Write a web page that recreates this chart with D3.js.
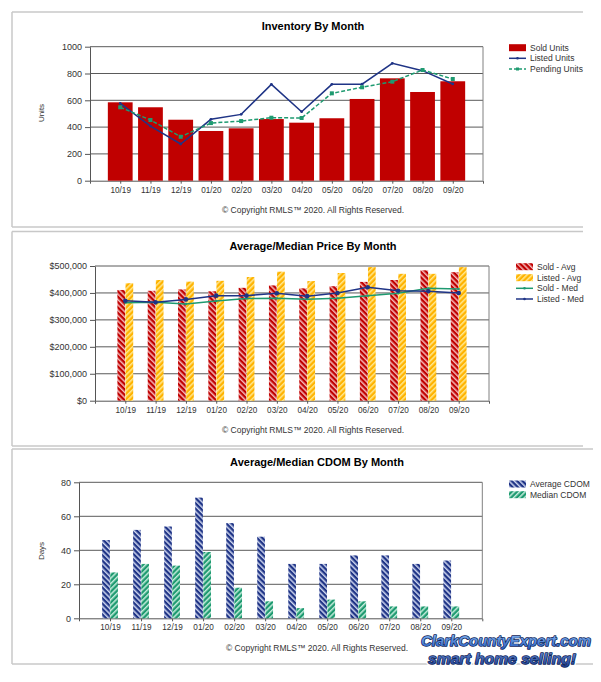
<!DOCTYPE html>
<html>
<head>
<meta charset="utf-8">
<script src="https://cdn.jsdelivr.net/npm/d3@7/dist/d3.min.js"></script>
<style>
  html, body { margin: 0; padding: 0; background: #fff; }
  svg { display: block; }
  text { font-family: "Liberation Sans", Arial, sans-serif; }
</style>
</head>
<body>
<svg id="chart" width="601" height="682"></svg>
<script>
// ---------- DATA ----------
const months = ["10/19","11/19","12/19","01/20","02/20","03/20","04/20","05/20","06/20","07/20","08/20","09/20"];

const soldUnits    = [585, 548, 455, 371, 391, 460, 433, 466, 610, 764, 662, 742];
const listedUnits  = [577, 408, 274, 458, 495, 719, 515, 719, 720, 876, 821, 722];
const pendingUnits = [548, 453, 328, 430, 445, 470, 468, 652, 697, 739, 826, 759];

const soldAvg   = [411000, 408000, 413000, 406000, 419000, 428000, 417000, 425000, 441000, 448000, 484000, 477000];
const listedAvg = [436000, 448000, 442000, 445000, 459000, 479000, 444000, 474000, 496000, 471000, 471000, 496000];
const soldMed   = [364000, 365000, 359000, 370000, 379000, 380000, 377000, 380000, 390000, 399000, 417000, 415000];
const listedMed = [371000, 365000, 376000, 390000, 390000, 399000, 388000, 400000, 421000, 408000, 406000, 400000];

const avgCdom = [46, 52, 54, 71, 56, 48, 32, 32, 37, 37, 32, 34];
const medCdom = [27, 32, 31, 39, 18, 10, 6, 11, 10, 7, 7, 7];

const unitTicks  = [0, 200, 400, 600, 800, 1000];
const priceTicks = [0, 100000, 200000, 300000, 400000, 500000];
const dayTicks   = [0, 20, 40, 60, 80];

const titles = ["Inventory By Month", "Average/Median Price By Month", "Average/Median CDOM By Month"];
const copyright = "\u00A9 Copyright RMLS\u2122 2020.  All Rights Reserved.";

// ---------- COLORS ----------
const RED = "#c00000", NAVY = "#1f3486", GREEN = "#1e9a70", ORANGE = "#ffb300";
const GRID = "#5a5a5a", AXIS = "#555", TXT = "#333";

const svg = d3.select("#chart");
svg.append("rect").attr("width", 601).attr("height", 682).attr("fill", "#fff");

// ---------- PATTERNS ----------
const defs = svg.append("defs");
function hatch(id, base, stripe, angle) {
  const p = defs.append("pattern").attr("id", id)
    .attr("patternUnits", "userSpaceOnUse").attr("width", 3.8).attr("height", 3.8)
    .attr("patternTransform", `rotate(${angle})`);
  p.append("rect").attr("width", 3.8).attr("height", 3.8).attr("fill", base);
  p.append("rect").attr("x", 0).attr("width", 1.5).attr("height", 3.8).attr("fill", stripe);
}
hatch("hRed", RED, "#f3b8b8", -45);
hatch("hOrange", ORANGE, "#ffe890", 45);
hatch("hNavy", NAVY, "#cdd5ee", -45);
hatch("hGreen", GREEN, "#c4ecdc", 45);

// ---------- PANELS ----------
function panel(x0, y0, x1, y1) {
  const g = svg.append("g");
  [[x0, y0, x1, y0], [x0, y0, x0, y1], [x0, y1, x1, y1]].forEach(l => {
    g.append("line").attr("x1", l[0]).attr("y1", l[1]).attr("x2", l[2]).attr("y2", l[3])
      .attr("stroke", "#c8c8c8").attr("stroke-width", 1.5);
  });
}
panel(12, 12, 583, 227);
panel(12, 231.5, 583, 446);
panel(12, 449, 593, 664);

// ---------- GENERIC PLOT FRAME ----------
function frame(cfg) {
  const g = svg.append("g");
  const x = d3.scaleLinear().domain([0, 13]).range([cfg.left, cfg.right]);
  const y = d3.scaleLinear().domain([0, cfg.max]).range([cfg.bottom, cfg.top]);

  g.selectAll("line.grid").data(cfg.ticks.filter(t => t > 0)).enter().append("line")
    .attr("x1", cfg.left).attr("x2", cfg.right)
    .attr("y1", d => y(d)).attr("y2", d => y(d))
    .attr("stroke", GRID).attr("stroke-width", 1);
  g.append("line").attr("x1", cfg.right).attr("x2", cfg.right)
    .attr("y1", cfg.top).attr("y2", cfg.bottom).attr("stroke", "#808080").attr("stroke-width", 1);

  const ya = d3.axisLeft(y).tickValues(cfg.ticks).tickFormat(cfg.fmt).tickSize(5).tickPadding(3).tickSizeOuter(0);
  const yg = g.append("g").attr("transform", `translate(${cfg.left},0)`).call(ya);
  yg.selectAll("text").attr("font-size", 9).attr("fill", TXT).attr("font-family", "Liberation Sans, Arial, sans-serif");
  yg.selectAll("line,path").attr("stroke", AXIS);

  const xa = d3.axisBottom(x).tickValues(d3.range(1, 13)).tickFormat(i => months[i - 1])
    .tickSize(3).tickPadding(3).tickSizeOuter(3);
  const xg = g.append("g").attr("transform", `translate(0,${cfg.bottom})`).call(xa);
  xg.selectAll("text").attr("font-size", 8.2).attr("fill", TXT).attr("font-family", "Liberation Sans, Arial, sans-serif");
  xg.selectAll("line,path").attr("stroke", AXIS);

  svg.append("text").attr("x", cfg.titleX).attr("y", cfg.titleY).attr("text-anchor", "middle")
    .attr("font-size", 11).attr("font-weight", "bold").attr("fill", "#000").text(cfg.title);
  svg.append("text").attr("x", cfg.copyX).attr("y", cfg.copyY).attr("text-anchor", "middle")
    .attr("font-size", 8.5).attr("fill", TXT).text(copyright);
  if (cfg.yTitle) {
    svg.append("text").attr("transform", `translate(${cfg.yTitleX},${cfg.yTitleY}) rotate(-90)`)
      .attr("text-anchor", "middle").attr("font-size", 8).attr("fill", TXT).text(cfg.yTitle);
  }
  return { g, x, y };
}

function legendRect(lx, ly, fill, label) {
  svg.append("rect").attr("x", lx).attr("y", ly - 3.5).attr("width", 17).attr("height", 7).attr("fill", fill);
  svg.append("text").attr("x", lx + 21).attr("y", ly + 3).attr("font-size", 8.5).attr("fill", TXT).text(label);
}
function legendLine(lx, ly, color, label, dash, marker) {
  svg.append("line").attr("x1", lx).attr("x2", lx + 17).attr("y1", ly).attr("y2", ly)
    .attr("stroke", color).attr("stroke-width", 1.5).attr("stroke-dasharray", dash || null);
  if (marker === "square") svg.append("rect").attr("x", lx + 7).attr("y", ly - 1.5).attr("width", 3).attr("height", 3).attr("fill", color);
  else svg.append("circle").attr("cx", lx + 8.5).attr("cy", ly).attr("r", 1.3).attr("fill", color);
  svg.append("text").attr("x", lx + 21).attr("y", ly + 3).attr("font-size", 8.5).attr("fill", TXT).text(label);
}

// ---------- PANEL 1: Inventory ----------
{
  const f = frame({ left: 90, right: 483, top: 46.7, bottom: 180.7, max: 1000, ticks: unitTicks,
    fmt: d3.format("d"), title: titles[0], titleX: 313, titleY: 30, copyX: 313, copyY: 213,
    yTitle: "Units", yTitleX: 44, yTitleY: 113 });
  const bw = (f.x(1) - f.x(0)) * 0.82;
  const bars = f.g.append("g");
  bars.selectAll("rect").data(soldUnits).enter().append("rect")
    .attr("x", (d, i) => f.x(i + 1) - bw / 2).attr("width", bw)
    .attr("y", d => f.y(d)).attr("height", d => f.y(0) - f.y(d)).attr("fill", RED);
  const line = d3.line().x((d, i) => f.x(i + 1)).y(d => f.y(d));
  f.g.append("path").datum(listedUnits).attr("d", line).attr("fill", "none").attr("stroke", NAVY).attr("stroke-width", 1.5);
  f.g.selectAll("circle.lu").data(listedUnits).enter().append("circle")
    .attr("cx", (d, i) => f.x(i + 1)).attr("cy", d => f.y(d)).attr("r", 1.4).attr("fill", NAVY);
  f.g.append("path").datum(pendingUnits).attr("d", line).attr("fill", "none").attr("stroke", GREEN)
    .attr("stroke-width", 1.5).attr("stroke-dasharray", "4,2");
  f.g.selectAll("rect.pu").data(pendingUnits).enter().append("rect")
    .attr("x", (d, i) => f.x(i + 1) - 2).attr("y", d => f.y(d) - 2).attr("width", 4).attr("height", 4).attr("fill", GREEN);
  legendRect(509, 47.7, RED, "Sold Units");
  legendLine(509, 58.3, NAVY, "Listed Units");
  legendLine(509, 69, GREEN, "Pending Units", "3,2", "square");
}

// ---------- PANEL 2: Price ----------
{
  const f = frame({ left: 95, right: 489, top: 266, bottom: 400.7, max: 500000, ticks: priceTicks,
    fmt: d => "$" + d3.format(",")(d), title: titles[1], titleX: 313, titleY: 249.5, copyX: 313, copyY: 433 });
  const bw = 7.7;
  const g = f.g.append("g");
  g.selectAll("rect.sa").data(soldAvg).enter().append("rect")
    .attr("x", (d, i) => f.x(i + 1) - bw - 0.2).attr("width", bw)
    .attr("y", d => f.y(d)).attr("height", d => f.y(0) - f.y(d)).attr("fill", "url(#hRed)");
  g.selectAll("rect.la").data(listedAvg).enter().append("rect")
    .attr("x", (d, i) => f.x(i + 1) + 0.2).attr("width", bw)
    .attr("y", d => f.y(d)).attr("height", d => f.y(0) - f.y(d)).attr("fill", "url(#hOrange)");
  const line = d3.line().x((d, i) => f.x(i + 1)).y(d => f.y(d));
  f.g.append("path").datum(soldMed).attr("d", line).attr("fill", "none").attr("stroke", GREEN).attr("stroke-width", 1.5);
  f.g.selectAll("circle.sm").data(soldMed).enter().append("circle")
    .attr("cx", (d, i) => f.x(i + 1)).attr("cy", d => f.y(d)).attr("r", 1.2).attr("fill", GREEN);
  f.g.append("path").datum(listedMed).attr("d", line).attr("fill", "none").attr("stroke", NAVY).attr("stroke-width", 1.5);
  f.g.selectAll("circle.lm").data(listedMed).enter().append("circle")
    .attr("cx", (d, i) => f.x(i + 1)).attr("cy", d => f.y(d)).attr("r", 2.3).attr("fill", NAVY);
  legendRect(516, 266.7, "url(#hRed)", "Sold - Avg");
  legendRect(516, 277.7, "url(#hOrange)", "Listed - Avg");
  legendLine(516, 288.3, GREEN, "Sold - Med");
  legendLine(516, 299, NAVY, "Listed - Med");
}

// ---------- PANEL 3: CDOM ----------
{
  const f = frame({ left: 79, right: 482.3, top: 482.3, bottom: 618.3, max: 80, ticks: dayTicks,
    fmt: d3.format("d"), title: titles[2], titleX: 317, titleY: 465.5, copyX: 317, copyY: 651,
    yTitle: "Days", yTitleX: 44, yTitleY: 551 });
  const bw = 7.7;
  const g = f.g.append("g");
  g.selectAll("rect.ac").data(avgCdom).enter().append("rect")
    .attr("x", (d, i) => f.x(i + 1) - bw - 0.2).attr("width", bw)
    .attr("y", d => f.y(d)).attr("height", d => f.y(0) - f.y(d)).attr("fill", "url(#hNavy)");
  g.selectAll("rect.mc").data(medCdom).enter().append("rect")
    .attr("x", (d, i) => f.x(i + 1) + 0.2).attr("width", bw)
    .attr("y", d => f.y(d)).attr("height", d => f.y(0) - f.y(d)).attr("fill", "url(#hGreen)");
  legendRect(509, 484, "url(#hNavy)", "Average CDOM");
  legendRect(509, 494.7, "url(#hGreen)", "Median CDOM");
}

// ---------- WATERMARK ----------
{
  const grad = defs.append("linearGradient").attr("id", "wmGrad").attr("x1", 0).attr("y1", 0).attr("x2", 0).attr("y2", 1);
  grad.append("stop").attr("offset", "0%").attr("stop-color", "#8cbcf4");
  grad.append("stop").attr("offset", "100%").attr("stop-color", "#2a5fbf");
  const grad2 = defs.append("linearGradient").attr("id", "wmGrad2").attr("x1", 0).attr("y1", 0).attr("x2", 0).attr("y2", 1);
  grad2.append("stop").attr("offset", "0%").attr("stop-color", "#6a90d6");
  grad2.append("stop").attr("offset", "100%").attr("stop-color", "#1d3c8c");
  const lines = [
    { t: "ClarkCountyExpert.com", x: 421, y: 645.5, w: 170, fs: 14.5, fill: "url(#wmGrad)" },
    { t: "smart home selling!", x: 428, y: 663.5, w: 148, fs: 15, fill: "url(#wmGrad2)" }
  ];
  lines.forEach(l => {
    [["#ffffff", 4, "#fff"], ["#0c2257", 1.4, l.fill]].forEach(([stroke, sw, fill]) => {
      svg.append("text").attr("x", l.x).attr("y", l.y)
        .attr("font-family", "DejaVu Sans Condensed, DejaVu Sans, sans-serif")
        .attr("font-stretch", "condensed")
        .attr("font-weight", "bold").attr("font-style", "italic")
        .attr("font-size", l.fs).attr("textLength", l.w).attr("lengthAdjust", "spacingAndGlyphs")
        .attr("stroke", stroke).attr("stroke-width", sw).attr("stroke-linejoin", "round")
        .attr("paint-order", "stroke").attr("fill", fill).text(l.t);
    });
  });
}
</script>
</body>
</html>
